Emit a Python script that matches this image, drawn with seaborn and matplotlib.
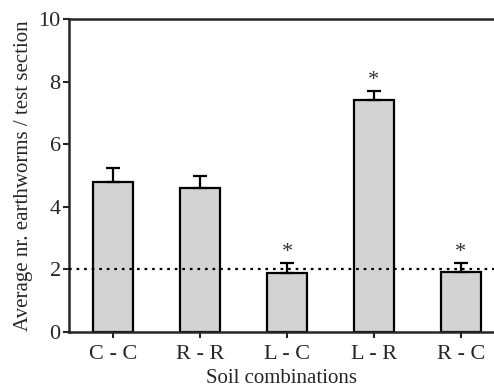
import matplotlib
matplotlib.use("Agg")
import matplotlib.pyplot as plt
import seaborn as sns
import pandas as pd

combinations = ["C - C", "R - R", "L - C", "L - R", "R - C"]
means = [4.8, 4.6, 1.9, 7.4, 1.93]
errors = [0.44, 0.38, 0.3, 0.29, 0.28]
significant = [False, False, True, True, True]
reference_level = 2

df = pd.DataFrame({"combo": combinations, "mean": means})

sns.set_style("ticks")
plt.rcParams["font.family"] = ["Liberation Serif", "DejaVu Serif"]

fig = plt.figure(figsize=(4.94, 3.87), dpi=100)
ax = fig.add_axes([0.1397, 0.142, 0.8603, 0.809])

sns.barplot(data=df, x="combo", y="mean", color="#d3d3d3", saturation=1,
            width=0.47, edgecolor="black", linewidth=1.6, ax=ax, errorbar=None)

ax.errorbar(range(len(means)), means, yerr=[[0] * len(errors), errors],
            fmt="none", ecolor="black", elinewidth=1.6, capsize=5, capthick=1.6)

for i, (m, e, s) in enumerate(zip(means, errors, significant)):
    if s:
        ax.text(i, m + e + 0.33, "*", ha="center", va="center", fontsize=16, color="#333333")

# dotted reference line drawn over the bars
ax.axhline(reference_level, color="black", linestyle=(0, (1.2, 2.2)), linewidth=1.6, zorder=5)

ax.set_ylim(0, 10)
ax.set_xlim(-0.506, 4.38)
ax.set_yticks([0, 2, 4, 6, 8, 10])
ax.set_xlabel("Soil combinations", fontsize=15, labelpad=4)
ax.set_ylabel("Average nr. earthworms / test section", fontsize=15, labelpad=4)
ax.tick_params(axis="both", direction="out", length=4, width=1.5, labelsize=16, pad=2)
ax.tick_params(axis="x", pad=5)

for side in ["left", "bottom", "top"]:
    ax.spines[side].set_linewidth(1.8)
ax.spines["right"].set_visible(False)

fig.savefig("out.png", dpi=100)
